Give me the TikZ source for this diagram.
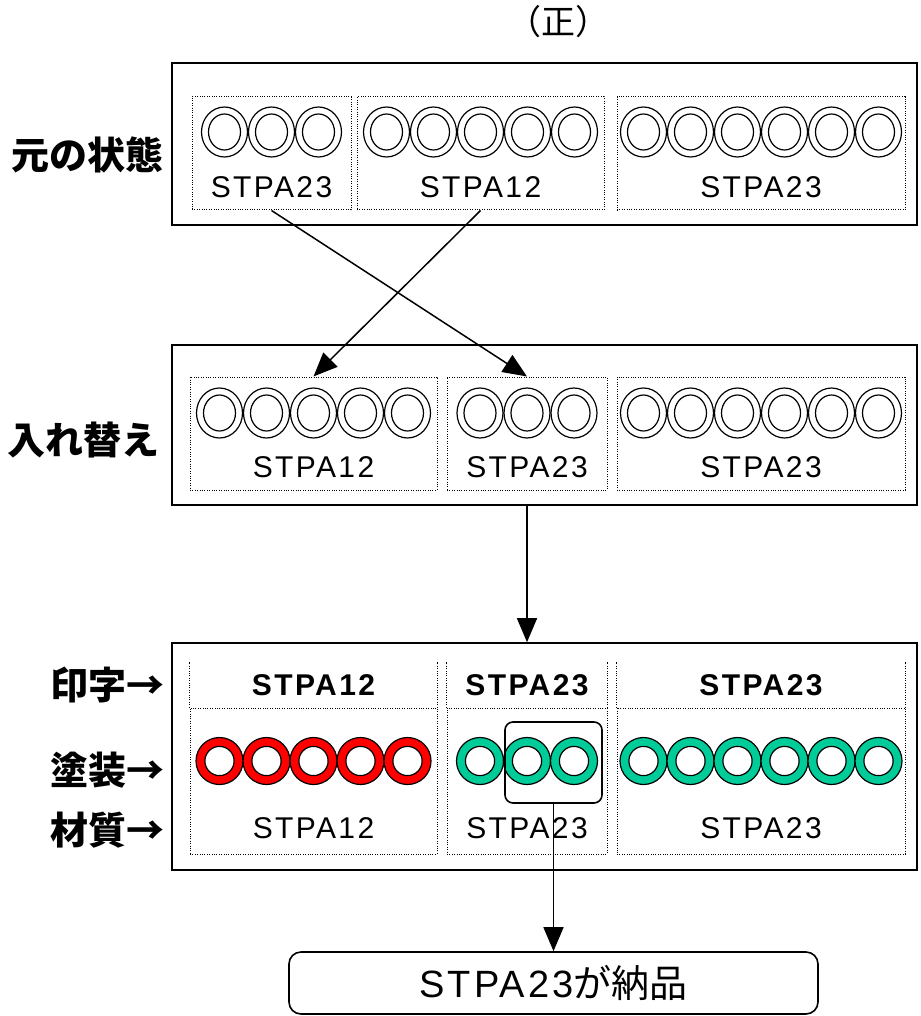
\documentclass[tikz,border=0pt]{standalone}
\usepackage{fontspec}
\setmainfont{Liberation Sans}
\newfontfamily\jp{Noto Sans CJK JP}
\newfontfamily\stpa{Liberation Sans}[LetterSpace=8]
\usetikzlibrary{arrows.meta}
\definecolor{ringred}{RGB}{255,0,0}
\definecolor{ringgreen}{RGB}{0,204,153}

\tikzset{
  outerbox/.style={draw, line width=0.8pt, inner sep=0pt},
  dotline/.style={line width=0.5pt, dash pattern=on 0.5pt off 0.7pt},
  dotbox/.style={draw, dotline, inner sep=0pt, minimum height=56.5pt},
  code/.style={font=\stpa\fontsize{15}{15}\selectfont},
  codeb/.style={font=\stpa\bfseries\fontsize{15}{15}\selectfont},
  rowlabel/.style={font=\jp\bfseries\fontsize{19}{19}\selectfont},
  conn/.style={line width=0.75pt, -{Triangle[length=12pt,width=10pt]}}
}

\begin{document}
\begin{tikzpicture}[x=0.5pt, y=-0.5pt]
\useasboundingbox (0,0) rectangle (920,1016);

\node[font=\jp\fontsize{17}{17}\selectfont] (title) at (558,22) {（正）};

% original state
\node[outerbox, minimum width=372.5pt, minimum height=81pt] (orig) at (544.5,144) {};
\node[rowlabel] (lorig) at (87,155) {元の状態};
\node[dotbox, minimum width=79.5pt] (b1) at (271.5,153.5) {};
\node[dotbox, minimum width=123.5pt] (b2) at (480.5,153.5) {};
\node[dotbox, minimum width=144pt] (b3) at (761,153.5) {};
\foreach \x in {224.5,271.5,318.5, 386.5,433.5,480.5,527.5,574.5, 643.5,690.5,737.5,784.5,831.5,878.5} {
  \draw[line width=0.6pt] (\x,132) ellipse (11.5pt and 12.5pt);
  \draw[line width=0.6pt] (\x,132) ellipse (8pt and 9pt);
}
\node[code] (tb1) at (271.5,187) {STPA23};
\node[code] (tb2) at (480.5,187) {STPA12};
\node[code] (tb3) at (761,187) {STPA23};

% swapped
\node[outerbox, minimum width=372.5pt, minimum height=80pt] (swap) at (544.5,425) {};
\node[rowlabel] (lswap) at (83,440) {入れ替え};
\node[dotbox, minimum width=123.5pt] (m1) at (313.5,433.5) {};
\node[dotbox, minimum width=80pt] (m2) at (527,433.5) {};
\node[dotbox, minimum width=144pt] (m3) at (761,433.5) {};
\foreach \x in {219.5,266.5,313.5,360.5,407.5, 480,527,574, 643.5,690.5,737.5,784.5,831.5,878.5} {
  \draw[line width=0.6pt] (\x,413) ellipse (11.5pt and 12.5pt);
  \draw[line width=0.6pt] (\x,413) ellipse (8pt and 9pt);
}
\node[code] (tm1) at (313.5,467) {STPA12};
\node[code] (tm2) at (527,467) {STPA23};
\node[code] (tm3) at (761,467) {STPA23};

\draw[conn] (b1.south) -- (m2.north);
\draw[conn] (b2.south) -- (m1.north);

% result
\node[outerbox, minimum width=372.5pt, minimum height=113.5pt] (res) at (544.5,756.5) {};
\node[rowlabel] (lprint) at (107,685) {印字→};
\node[rowlabel] (lpaint) at (107,770) {塗装→};
\node[rowlabel] (lmat) at (107,830) {材質→};
\node[dotbox, minimum width=123.5pt, minimum height=73pt] (l1) at (313.5,781) {};
\node[dotbox, minimum width=80pt, minimum height=73pt] (l2) at (527,781) {};
\node[dotbox, minimum width=144pt, minimum height=73pt] (l3) at (761,781) {};
\foreach \n in {l1,l2,l3}
  \draw[dotline] (\n.north west) -- ++(0,-46) (\n.north east) -- ++(0,-46);
\foreach \x in {219.5,266.5,313.5,360.5,407.5} {
  \filldraw[fill=ringred, line width=0.6pt] (\x,761) circle (11.75pt);
  \filldraw[fill=white, line width=0.6pt] (\x,761) circle (7.3pt);
}
\foreach \x in {480,527,574, 643.5,690.5,737.5,784.5,831.5,878.5} {
  \filldraw[fill=ringgreen, line width=0.6pt] (\x,761) circle (11.75pt);
  \filldraw[fill=white, line width=0.6pt] (\x,761) circle (7.3pt);
}
\node[codeb] (pr1) at (313.5,685) {STPA12};
\node[codeb] (pr2) at (527,685) {STPA23};
\node[codeb] (pr3) at (761,685) {STPA23};
\node[code] (ma1) at (313.5,828) {STPA12};
\node[code] (ma2) at (527,828) {STPA23};
\node[code] (ma3) at (761,828) {STPA23};

\draw[conn] (m2 |- swap.south) -- (m2 |- res.north);

% delivered lot
\node[draw, line width=0.8pt, rounded corners=4pt, minimum width=48.5pt, minimum height=40.5pt] (pick) at (553.5,762.5) {};
\node[draw, line width=0.8pt, rounded corners=6pt, minimum width=264.5pt, minimum height=31pt,
  font=\fontsize{19}{19}\selectfont] (deliv) at (553.5,983) {{\stpa STPA23}{\jp が納品}};
\draw[conn] (pick.south) -- (pick.south |- deliv.north);
\end{tikzpicture}
\end{document}
